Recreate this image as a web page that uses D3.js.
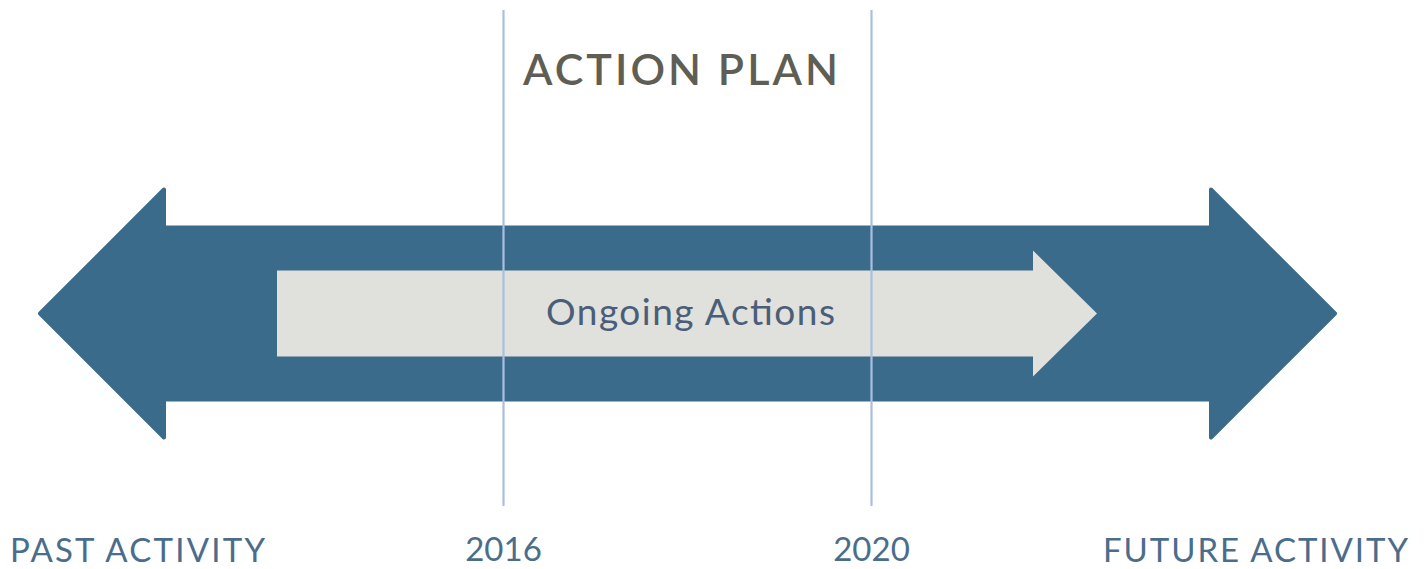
<!DOCTYPE html>
<html>
<head>
<meta charset="utf-8">
<script src="https://cdn.jsdelivr.net/npm/d3@7"></script>
<style>
  html, body { margin: 0; padding: 0; background: #fff; }
  svg { display: block; }
</style>
</head>
<body>
<svg id="chart"></svg>
<script>
// milestones (vertical guides) and labels
const years = [2016, 2020];
const yearLabels = ["2016", "2020"];
const title = "ACTION PLAN";
const innerLabel = "Ongoing Actions";
const endLabels = ["PAST ACTIVITY", "FUTURE ACTIVITY"];

const W = 1426, H = 569;
const svg = d3.select("#chart").attr("width", W).attr("height", H);

// year -> x
const x = d3.scaleLinear().domain([2016, 2020]).range([503.5, 871.5]);
const cy = 313.5;

// big double arrow (in years along the time axis)
const big = { tipL: x.invert(40), backL: x.invert(164), backR: x.invert(1211), tipR: x.invert(1335), half: 86, headHalf: 124 };
const bigPts = [
  [x(big.tipL), cy],
  [x(big.backL), cy - big.headHalf],
  [x(big.backL), cy - big.half],
  [x(big.backR), cy - big.half],
  [x(big.backR), cy - big.headHalf],
  [x(big.tipR), cy],
  [x(big.backR), cy + big.headHalf],
  [x(big.backR), cy + big.half],
  [x(big.backL), cy + big.half],
  [x(big.backL), cy + big.headHalf]
];
svg.append("path")
  .attr("d", d3.line()(bigPts) + "Z")
  .attr("fill", "#3a6b8b")
  .attr("stroke", "#3a6b8b")
  .attr("stroke-width", 4)
  .attr("stroke-linejoin", "round");

// inner ongoing arrow
const inner = { start: x.invert(277), back: x.invert(1033), tip: x.invert(1097), half: 43, headHalf: 63 };
const innerPts = [
  [x(inner.start), cy - inner.half],
  [x(inner.back), cy - inner.half],
  [x(inner.back), cy - inner.headHalf],
  [x(inner.tip), cy],
  [x(inner.back), cy + inner.headHalf],
  [x(inner.back), cy + inner.half],
  [x(inner.start), cy + inner.half]
];
svg.append("path")
  .attr("d", d3.line()(innerPts) + "Z")
  .attr("fill", "#e0e0dc");

svg.append("text")
  .attr("x", 546).attr("y", 325)
  .attr("textLength", 289).attr("lengthAdjust", "spacing")
  .style("font-family", "Lato, 'Open Sans', sans-serif")
  .style("font-size", "37px")
  .style("fill", "#4b5e78")
  .text(innerLabel);

// vertical guides
svg.selectAll("line.guide").data(years).join("line")
  .attr("class", "guide")
  .attr("x1", d => x(d)).attr("x2", d => x(d))
  .attr("y1", 10).attr("y2", 506)
  .attr("stroke", "#a9bfdf")
  .attr("stroke-width", 2.2);

// title
svg.append("text")
  .attr("x", 523).attr("y", 85)
  .attr("textLength", 315).attr("lengthAdjust", "spacing")
  .style("font-family", "Lato, 'Open Sans', sans-serif")
  .style("font-size", "43px")
  .style("font-weight", 600)
  .style("fill", "#5f5e54")
  .text(title);

const labelStyle = sel => sel
  .style("font-family", "Lato, 'Open Sans', sans-serif")
  .style("font-size", "33px")
  .style("fill", "#4a6d8c");

// year labels
svg.selectAll("text.year").data(years).join("text")
  .attr("class", "year")
  .attr("x", d => x(d)).attr("y", 561)
  .attr("text-anchor", "middle")
  .call(labelStyle)
  .text((d, i) => yearLabels[i]);

// end labels
svg.append("text")
  .attr("x", 10).attr("y", 562)
  .attr("textLength", 255).attr("lengthAdjust", "spacing")
  .call(labelStyle)
  .text(endLabels[0]);
svg.append("text")
  .attr("x", 1103).attr("y", 562)
  .attr("textLength", 305).attr("lengthAdjust", "spacing")
  .call(labelStyle)
  .text(endLabels[1]);
</script>
</body>
</html>
